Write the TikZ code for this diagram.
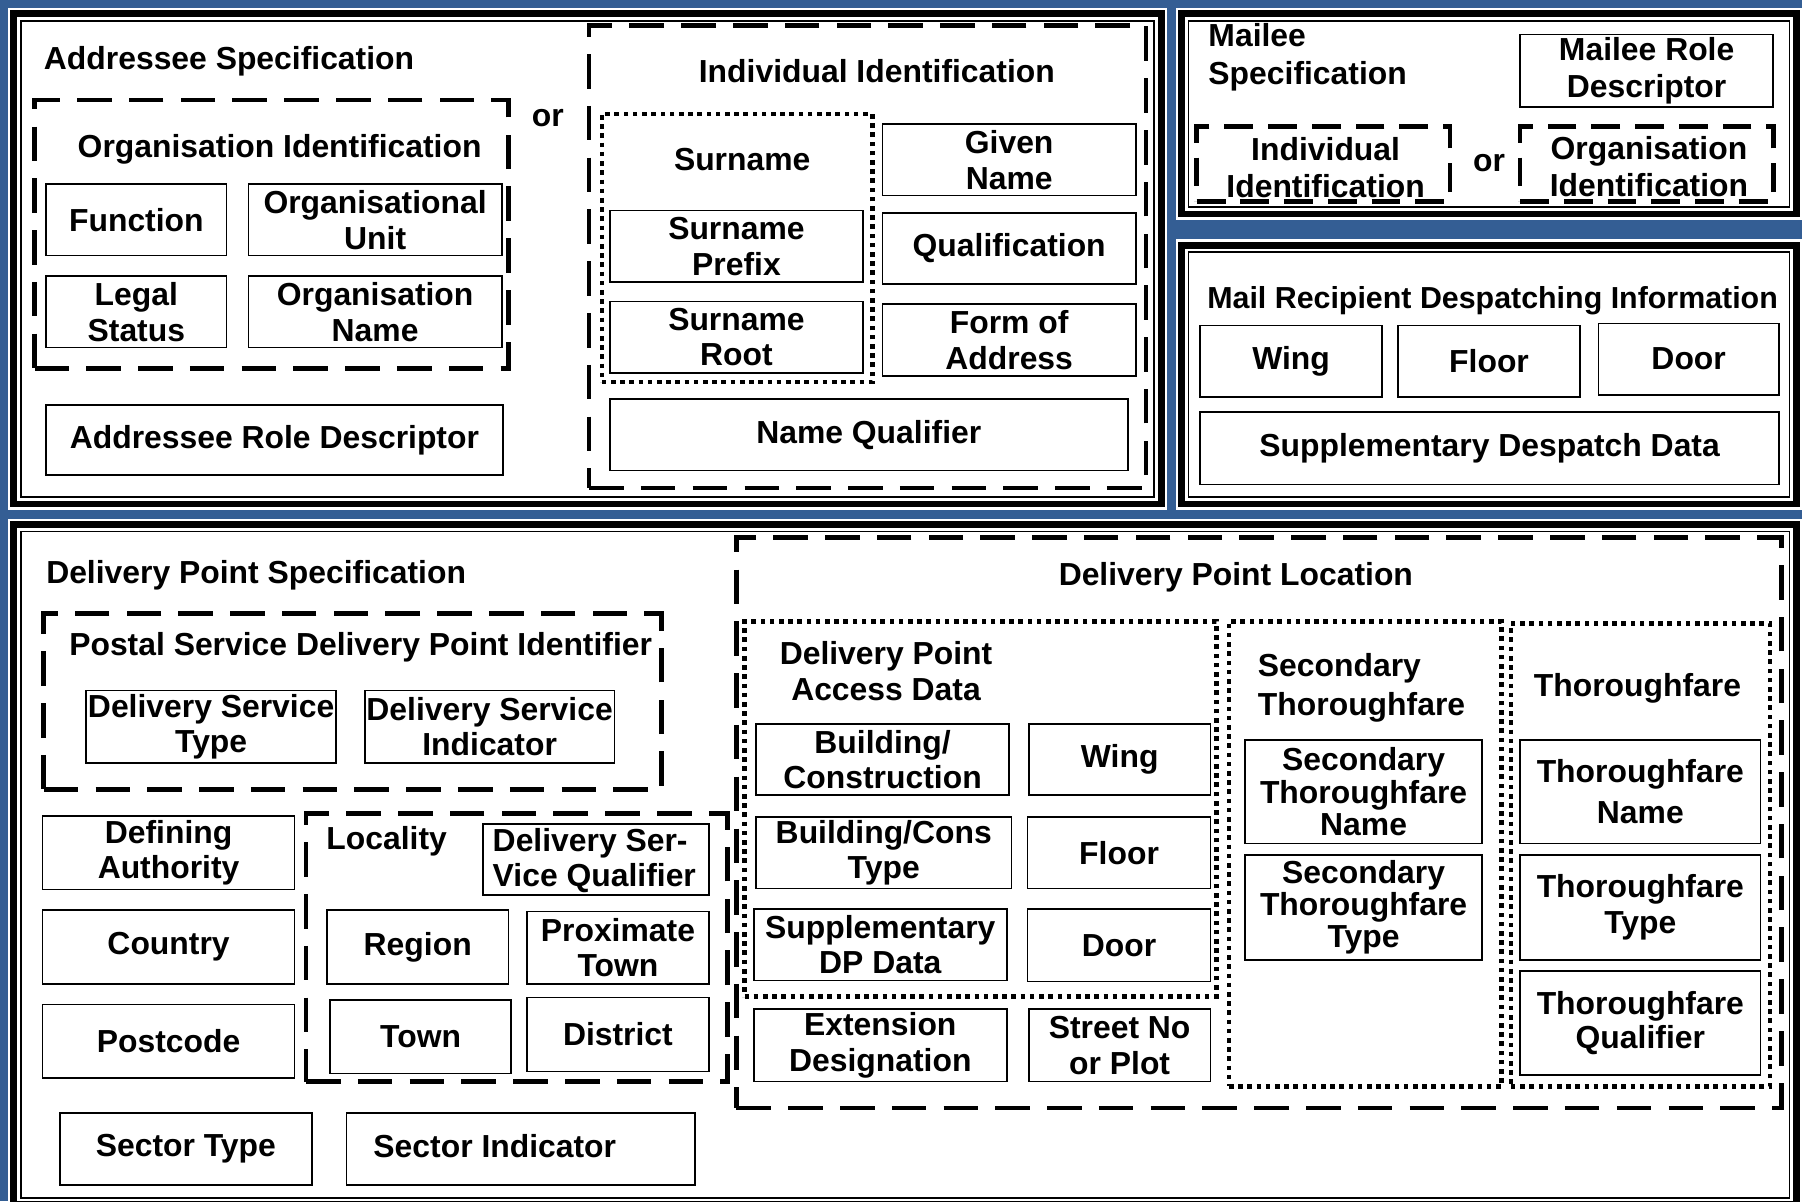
\documentclass[tikz,border=0pt]{standalone}
\usepackage{fontspec}
\setmainfont{Liberation Sans}
\usetikzlibrary{fit}
\definecolor{bgblue}{RGB}{52,94,148}
\newcommand\txtlead[1]{\bfseries\fontsize{27.7}{#1}\selectfont}
\tikzset{
  cell/.style={draw=black, line width=1.4pt, inner sep=0pt},
  lbl/.style={inner sep=0pt, align=center, font={\txtlead{31}}},
  dashbox/.style={draw=black, line width=4pt, inner sep=0pt, dash pattern=on 30pt off 15pt},
  smalldash/.style={draw=black, line width=4pt, inner sep=0pt, dash pattern=on 25pt off 13pt},
  dotbox/.style={draw=black, line width=4pt, inner sep=0pt, dash pattern=on 4pt off 4pt},
}
% \cell[leading]{name}{x1}{y1}{x2}{y2}{text}
\newcommand\cell[7][31]{%
  \node[cell, fit={(#3,#4) (#5,#6)}] (#2) {};
  \node[lbl, font={\txtlead{#1}}] (#2-t) at (#2.center) {#7};}
\newcommand\panel[5]{%
  \node[fill=white, inner sep=0pt, fit={(#2,#3) (#4,#5)}] (#1) {};
  \draw[line width=6pt] ({#2+5},{#3+5}) rectangle ({#4-5},{#5-5});
  \draw[line width=1.4pt] ({#2+11},{#3+11}) rectangle ({#4-11},{#5-11});}
\begin{document}
\begin{tikzpicture}[x=1pt,y=-1pt]
\useasboundingbox (0,0) rectangle (1566,1044);
\clip (0,0) rectangle (1566,1044);
\fill[bgblue] (0,0) rectangle (1566,1044);

% ---------- Addressee panel ----------
\panel{p1}{7}{7}{1014}{443}
\node[lbl, anchor=base west] (addrtitle) at (38,60) {Addressee Specification};
\node[dashbox, fit={(30,87) (442,320)}] (orgid) {};
\node[lbl] (orgidt) at (243,130) {Organisation Identification};
\cell{fn}{40}{160}{197}{222}{Function}
\cell{ou}{216}{160}{436}{222}{Organisational\\Unit}
\cell{ls}{40}{240}{197}{302}{Legal\\Status}
\cell{on}{216}{240}{436}{302}{Organisation\\Name}
\node[lbl] (or1) at (476,103) {or};
\cell{ard}{40}{352}{437}{413}{Addressee Role Descriptor}
\node[dashbox, fit={(512,22) (996,424)}] (indid) {};
\node[lbl] (indidt) at (762,62) {Individual Identification};
\node[dotbox, fit={(523,99) (758,332)}] (surgrp) {};
\node[lbl] (surt) at (645,139) {Surname};
\cell{sp}{530}{183}{750}{245}{Surname\\Prefix}
\cell{sr}{530}{262}{750}{324}{Surname\\Root}
\cell{gn}{767}{108}{987}{170}{Given\\Name}
\cell{ql}{767}{185}{987}{247}{Qualification}
\cell{fa}{767}{264}{987}{327}{Form of\\Address}
\cell{nq}{530}{347}{980}{409}{Name Qualifier}

% ---------- Mailee panel ----------
\panel{p2}{1022}{7}{1566}{191}
\node[lbl, align=left, anchor=west, font={\txtlead{33}}] (mailt) at (1050,50) {Mailee\\Specification};
\cell[33]{mrd}{1321}{30}{1541}{93}{Mailee Role\\Descriptor}
\node[smalldash, fit={(1040,110) (1260,175)}] (mind) {};
\node[lbl, font={\txtlead{32}}] (mindt) at (1152,146) {Individual\\Identification};
\node[lbl] (or2) at (1294,142) {or};
\node[smalldash, fit={(1321,110) (1541,175)}] (morg) {};
\node[lbl, font={\txtlead{32}}] (morgt) at (1433,145) {Organisation\\Identification};

% ---------- Despatch panel ----------
\panel{p3}{1022}{208}{1566}{443}
\node[lbl, anchor=base west, font={\bfseries\fontsize{26.4}{30}\selectfont}] (mrdt) at (1049,268) {Mail Recipient Despatching Information};
\cell{wingA}{1043}{283}{1201}{345}{Wing}
\cell{floorA}{1215}{283}{1373}{345}{Floor}
\cell{doorA}{1389}{281}{1546}{343}{Door}
\cell{sdd}{1043}{358}{1546}{421}{Supplementary Despatch Data}

% ---------- Delivery panel ----------
\panel{p4}{7}{451}{1566}{1052}
\node[lbl, anchor=base west] (dpst) at (40,507) {Delivery Point Specification};
\node[dashbox, fit={(38,533) (575,686)}] (psdpi) {};
\node[lbl, anchor=base west] (psdpit) at (60,570) {Postal Service Delivery Point Identifier};
\cell{dst}{75}{600}{292}{663}{Delivery Service\\Type}
\cell{dsi}{317}{600}{534}{663}{Delivery Service\\Indicator}
\cell{da}{37}{709}{256}{773}{Defining\\Authority}
\cell{ctry}{37}{791}{256}{855}{Country}
\cell{pc}{37}{873}{256}{937}{Postcode}
\node[dashbox, fit={(266,707) (632,940)}] (loc) {};
\node[lbl] (loct) at (336,731) {Locality};
\node[cell, fit={(420,716) (616,778)}] (dsq) {};
\node[lbl, align=left, anchor=west] (dsqt) at (428,748) {Delivery Ser-\\Vice Qualifier};
\cell{reg}{284}{791}{442}{855}{Region}
\cell{ptown}{458}{792}{616}{855}{Proximate\\Town}
\cell{town}{287}{869}{444}{933}{Town}
\cell{dist}{458}{867}{616}{931}{District}
\cell{sectype}{52}{967}{271}{1030}{Sector Type}
\node[cell, fit={(301,967) (604,1030)}] (secind) {};
\node[lbl] (secindt) at (430,996) {Sector Indicator};

\node[dashbox, fit={(640,467) (1548,963)}] (dpl) {};
\node[lbl] (dplt) at (1074,502) {Delivery Point Location};
\node[dotbox, fit={(647,540) (1057,866)}] (dpad) {};
\node[lbl] (dpadt) at (770,583) {Delivery Point\\Access Data};
\cell{bc}{657}{629}{877}{691}{Building/\\Construction}
\cell{wingB}{894}{629}{1052}{691}{Wing}
\cell{bct}{657}{710}{879}{772}{Building/Cons\\Type}
\cell{floorB}{893}{710}{1052}{772}{Floor}
\cell{sdp}{655}{790}{875}{852}{Supplementary\\DP Data}
\cell{doorB}{893}{790}{1052}{853}{Door}
\cell{ed}{655}{877}{875}{940}{Extension\\Designation}
\cell{snp}{894}{877}{1052}{940}{Street No\\or Plot}

\node[dotbox, fit={(1068,540) (1305,944)}] (stf) {};
\node[lbl, align=left, anchor=west, font={\txtlead{34}}] (stft) at (1093,598) {Secondary\\Thoroughfare};
\cell[28]{stn}{1082}{643}{1288}{733}{Secondary\\Thoroughfare\\Name}
\cell[28]{stt}{1082}{743}{1288}{834}{Secondary\\Thoroughfare\\Type}
\node[dotbox, fit={(1313,542) (1538,944)}] (tf) {};
\node[lbl] (tft) at (1423,598) {Thoroughfare};
\cell[35]{tn}{1321}{643}{1530}{733}{Thoroughfare\\Name}
\cell[31]{tt}{1321}{743}{1530}{834}{Thoroughfare\\Type}
\cell[30]{tq}{1321}{844}{1530}{934}{Thoroughfare\\Qualifier}
\end{tikzpicture}
\end{document}
